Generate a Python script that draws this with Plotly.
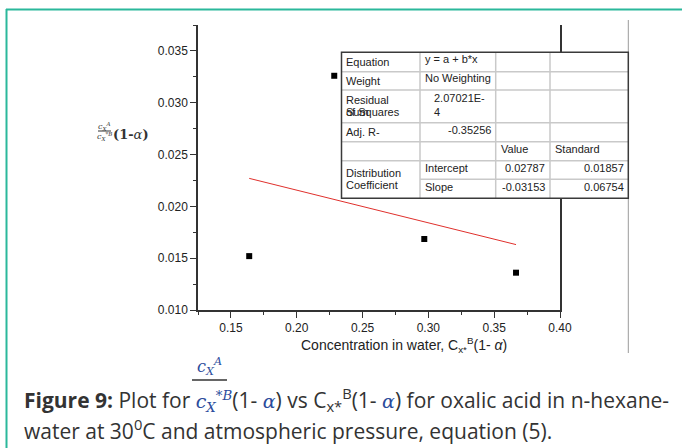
import plotly.graph_objects as go

W, H = 682, 448
ML, MR, MT, MB = 198, 122, 25, 138

# Measured distribution data: water-phase concentration vs. ratio term
conc_water = [0.1639, 0.2285, 0.2969, 0.3666]
ratio_term = [0.0152, 0.0326, 0.01685, 0.0136]

# Linear fit y = a + b*x (no weighting)
intercept = 0.02787
slope = -0.03153
intercept_se = 0.01857
slope_se = 0.06754
rss_lines = ["2.07021E-", "4"]
adj_r2 = -0.35256

x_ticks = [0.15, 0.20, 0.25, 0.30, 0.35, 0.40]
y_ticks = [0.010, 0.015, 0.020, 0.025, 0.030, 0.035]
x_range = [0.125, 0.40]
y_range = [0.010, 0.0375]

AX = "#333333"
TXT = "#222222"
MATH = "#2b4c9c"
CAP = "#333333"
SANS = "Liberation Sans, Arial, sans-serif"
SERIF = "DejaVu Serif, serif"
CAPFONT = "Open Sans, sans-serif"

PW = W - ML - MR
PH = H - MT - MB


def px(x):
    """figure pixel column -> paper x"""
    return (x - ML) / PW


def py(y):
    """figure pixel row (from top) -> paper y"""
    return (H - MB - y) / PH


fit_x = [min(conc_water), max(conc_water)]
fit_y = [intercept + slope * v for v in fit_x]

fig = go.Figure()
fig.add_trace(go.Scatter(
    x=fit_x, y=fit_y, mode="lines",
    line=dict(color="#e0302c", width=1), showlegend=False, hoverinfo="skip"))
fig.add_trace(go.Scatter(
    x=conc_water, y=ratio_term, mode="markers",
    marker=dict(symbol="square", size=6, color="black"), showlegend=False))

axis_common = dict(
    showgrid=False, zeroline=False, showline=True, linecolor=AX, linewidth=1.5,
    ticks="outside", ticklen=6, tickwidth=1, tickcolor=AX,
    tickfont=dict(family=SANS, size=12, color=TXT),
)
fig.update_xaxes(
    range=x_range, tickvals=x_ticks, tickformat=".2f", mirror=False,
    minor=dict(ticks="outside", ticklen=3, tickcolor=AX, dtick=0.025, tick0=0.125),
    **axis_common)
fig.update_yaxes(
    range=y_range, tickvals=y_ticks, tickformat=".3f", mirror=True,
    minor=dict(ticks="outside", ticklen=3, tickcolor=AX, dtick=0.0025, tick0=0.010),
    **axis_common)

shapes = []


def hline(x0, x1, y, color, width):
    shapes.append(dict(type="line", xref="paper", yref="paper", x0=px(x0), x1=px(x1), y0=py(y), y1=py(y),
                       line=dict(color=color, width=width), layer="above"))


def vline(x, y0, y1, color, width):
    shapes.append(dict(type="line", xref="paper", yref="paper", x0=px(x), x1=px(x), y0=py(y0), y1=py(y1),
                       line=dict(color=color, width=width), layer="above"))


# teal frame of the figure box
hline(6, W, 9.5, "#2bb89b", 2)
vline(6.5, 9, H, "#2bb89b", 2)
# page edge of the graph layer
vline(628.3, 20, 353, "#9a9a9a", 1)

# fit-results table
tl, tr, tt, tb = 341.5, 628.3, 52.3, 198.3
shapes.append(dict(type="rect", xref="paper", yref="paper", x0=px(tl), x1=px(tr), y0=py(tt), y1=py(tb),
                   fillcolor="white", line=dict(width=0), layer="above"))
for r in [71.7, 90, 122.7, 141.7, 160.7]:
    hline(tl, tr, r, "#c9c9c9", 1.5)
hline(420, tr, 179.3, "#c9c9c9", 1.5)
for c in [420, 495.7, 550]:
    vline(c, tt, tb, "#c9c9c9", 1.5)
shapes.append(dict(type="rect", xref="paper", yref="paper", x0=px(tl), x1=px(tr), y0=py(tt), y1=py(tb),
                   fillcolor="rgba(0,0,0,0)", line=dict(color="#3a3a3a", width=1.5), layer="above"))

# fraction bars (axis title and caption)
hline(98, 111, 131, "#333", 1)
hline(192, 227, 380, CAP, 1.5)

annotations = []


def note(text, x, y, anchor="left", size=11, family=SANS, color=TXT, **kw):
    annotations.append(dict(
        text=text, x=px(x), y=py(y), xref="paper", yref="paper", xanchor=anchor, yanchor="middle",
        showarrow=False, borderpad=0, font=dict(family=family, size=size, color=color), **kw))


table_cells = [
    ("Equation", 345, 62, "left"),
    ("y = a + b*x", 424, 59, "left"),
    ("Weight", 345, 81, "left"),
    ("No Weighting", 424, 78, "left"),
    ("Residual", 345, 100, "left"),
    ("Sum", 345, 112, "left"),
    ("of Squares", 345, 112, "left"),
    (rss_lines[0], 433, 97.5, "left"),
    (rss_lines[1], 433, 112, "left"),
    ("Adj. R-", 345, 132, "left"),
    (f"{adj_r2:.5f}", 491.5, 129.5, "right"),
    ("Value", 500, 149, "left"),
    ("Standard", 554, 149, "left"),
    ("Intercept", 424, 168, "left"),
    (f"{intercept:.5f}", 546, 168, "right"),
    (f"{intercept_se:.5f}", 624.5, 168, "right"),
    ("Distribution", 345, 172.5, "left"),
    ("Coefficient", 345, 185, "left"),
    ("Slope", 424, 186.5, "left"),
    (f"{slope:.5f}", 546, 186.5, "right"),
    (f"{slope_se:.5f}", 624.5, 186.5, "right"),
]
for t, x, y, a in table_cells:
    note(t, x, y, a)

# axis titles
note("Concentration in water, C<sub>x*</sub><sup>B</sup>(1- <i>α</i>)", 300, 345, size=14)
note("<i>c</i><sub><i>X</i></sub><sup><i>A</i></sup>", 104.5, 126, anchor="center", size=8, family=SERIF, color="#333")
note("<i>c</i><sub><i>X</i></sub><sup>*<i>B</i></sup>", 104.5, 136, anchor="center", size=8, family=SERIF, color="#333")
note("<b>(1-</b><i>α</i><b>)</b>", 112, 134, size=13, family=SERIF, color="#333")

# caption
alpha = f'<span style="color:{MATH};font-family:DejaVu Serif;font-size:19px"><i>α</i></span>'
den = (f'<span style="color:{MATH};font-family:DejaVu Serif;font-size:19px"><i>c</i>'
       f'<sub><i>X</i></sub><sup>*<i>B</i></sup></span>')
line1 = (f"<b>Figure 9:</b> Plot for {den}(1- {alpha}) vs C<sub>x*</sub><sup>B</sup>(1- {alpha}) "
         "for oxalic acid in n-hexane-")
note(line1, 23, 399, size=21, family=CAPFONT, color=CAP)
note("water at 30<sup>0</sup>C and atmospheric pressure, equation (5).", 23, 429, size=21,
     family=CAPFONT, color=CAP)
note("<i>c</i><sub><i>X</i></sub><sup><i>A</i></sup>", 209.5, 366, anchor="center", size=16,
     family=SERIF, color=MATH)

fig.update_layout(
    width=W, height=H, margin=dict(l=ML, r=MR, t=MT, b=MB),
    paper_bgcolor="white", plot_bgcolor="white",
    shapes=shapes, annotations=annotations,
)

fig.write_html("out.html")
